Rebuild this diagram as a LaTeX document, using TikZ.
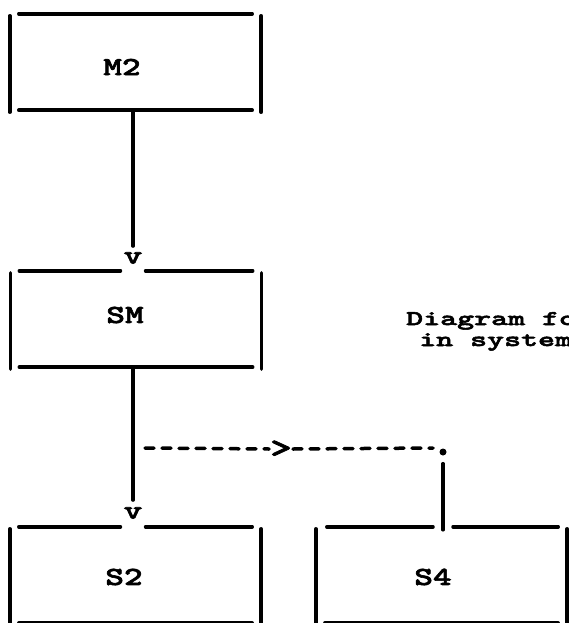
\documentclass[tikz,border=0pt]{standalone}
\usepackage{fontspec}
\newfontfamily\labfont{lmmonolt10-bold}[Extension=.otf, FakeStretch=1.37, FakeBold=2.5]
\newfontfamily\notefont{lmmonolt10-bold}[Extension=.otf, FakeStretch=1.54, FakeBold=2.5]

\begin{document}
\begin{tikzpicture}[x=1pt, y=-1pt,
    typeline/.style={line width=3.5pt, line cap=round},
    typedash/.style={typeline, dash pattern=on 9pt off 8pt},
    typebox/.style={rectangle, minimum width=251pt, minimum height=96pt, inner sep=0pt},
    boxlabel/.style={font=\labfont\fontsize{26}{26}\selectfont, inner sep=0pt},
    arrowtip/.style={font=\labfont\fontsize{26}{26}\selectfont, inner sep=3pt},
    notetext/.style={font=\notefont\fontsize{21}{21}\selectfont, inner sep=0pt, anchor=base west}]
  \useasboundingbox (0,0) rectangle (569,623);
  \clip (0,0) rectangle (569,623);
  \node[typebox] (m2) at (135.5,62) {};
  \node[typebox] (sm) at (136,319) {};
  \node[typebox] (s2) at (135.5,575) {};
  \node[typebox] (s4) at (441.5,575) {};
  \node[boxlabel] (m2txt) at (122,67) {M2};
  \node[boxlabel] (smtxt) at (125,315) {SM};
  \node[boxlabel] (s2txt) at (124,577) {S2};
  \node[boxlabel] (s4txt) at (433,577) {S4};
  \node[arrowtip] (v1) at (133,258) {v};
  \node[arrowtip] (v2) at (133,513) {v};
  \node[arrowtip, font=\labfont\fontsize{30}{30}\selectfont, inner sep=1pt] (gt) at (281,449) {>};
  \node[circle, fill, inner sep=0pt, minimum size=7pt] (dot) at (443,452) {};
  \coordinate (tap) at (145,448);
  \coordinate (bend) at (433,448);
  \node[notetext] (note1) at (406,325) {Diagram for};
  \node[notetext] (note2) at (419,346) {in system};
  \foreach \b in {m2,sm,s2,s4} {
    \draw[typeline] ([yshift=-2pt]\b.north west) -- ([yshift=-2pt]\b.south west);
    \draw[typeline] ([yshift=-2pt]\b.north east) -- ([yshift=-2pt]\b.south east);
    \draw[typeline] ([xshift=9pt]\b.south west) -- ([xshift=-9pt]\b.south east);
  }
  \draw[typeline] ([xshift=9pt]m2.north west) -- ([xshift=-9pt]m2.north east);
  \draw[typeline] ([xshift=9pt]sm.north west) -- (sm.north -| v1.west);
  \draw[typeline] (sm.north -| v1.east) -- ([xshift=-9pt]sm.north east);
  \draw[typeline] ([xshift=9pt]s2.north west) -- (s2.north -| v2.west);
  \draw[typeline] (s2.north -| v2.east) -- ([xshift=-9pt]s2.north east);
  \draw[typeline] ([xshift=11pt]s4.north west) -- ([xshift=-10pt]s4.north -| dot);
  \draw[typeline] ([xshift=10pt]s4.north -| dot) -- ([xshift=-9pt]s4.north east);
  \draw[typeline, shorten >=3pt] (m2.south -| v1) -- (v1.north);
  \draw[typeline, shorten >=4pt] (sm.south -| v2) -- (v2.north);
  \draw[typedash] (tap) -- (gt.west);
  \draw[typedash] (gt.east) -- (bend);
  \draw[typeline, shorten <=8pt] (dot) -- ([yshift=-3pt]s4.north -| dot);
\end{tikzpicture}
\end{document}
